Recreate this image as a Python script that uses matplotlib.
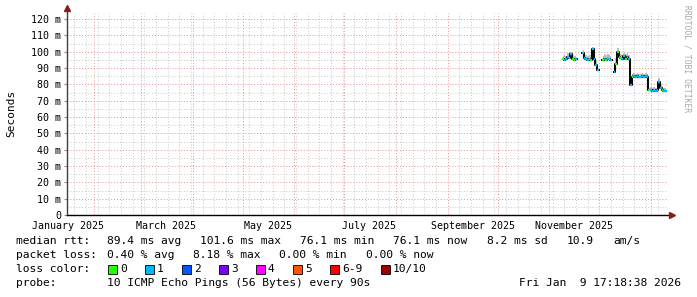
import numpy as np
import pandas as pd
import matplotlib
matplotlib.use('Agg')
import matplotlib.pyplot as plt
from matplotlib.patches import Rectangle
from matplotlib.transforms import blended_transform_factory

nan = np.nan

# daily medians (ms) from 2025-11-09 to 2026-01-10
median = [95.5, 95.0, 95.5, 97.0, 96.0, 98.5, 95.5, 95.0, 95.5, nan, nan, nan,
          99.0, 96.0, 95.5, 95.0, 95.5, 95.0, 101.6, 95.5, 92.0, 89.0,
          nan, nan, 95.0, 95.5, 95.0, 95.5, 95.5, 95.0, nan,
          87.5, 92.5, 100.0, 97.0, 96.0, 95.5, 97.5, 95.5, 96.5, 95.5,
          79.5, 84.5, 85.0, 84.5, 85.0, 84.5, 84.5, 85.0, 84.5, 85.0, 84.5,
          76.5, 76.5, 76.0, 76.5, 76.0, 76.5, 81.5, 77.5, 76.5, 76.0, 76.1]
smoke_top = [97.5, 98.0, 97.5, 99.5, 99.0, 100.0, 98.0, 97.5, 97.5, nan, nan, nan,
             101.0, 99.0, 98.0, 97.5, 98.0, 98.0, 102.7, 98.0, 95.0, 92.0,
             nan, nan, 97.5, 98.5, 98.0, 98.5, 98.0, 97.5, nan,
             90.0, 96.0, 102.0, 100.0, 98.5, 98.0, 99.5, 98.5, 99.0, 98.0,
             83.0, 86.5, 87.0, 86.5, 87.0, 86.5, 86.5, 87.0, 86.5, 87.0, 86.5,
             78.0, 78.5, 78.0, 78.5, 78.0, 78.5, 84.0, 80.0, 79.0, 78.0, 78.0]
loss = [0, 1, 1, 1, 0, 1, 0, 0, 1, 0, 0, 0,
        1, 1, 1, 1, 0, 0, 1, 1, 1, 1,
        0, 0, 0, 1, 0, 1, 0, 1, 0,
        1, 0, 0, 1, 0, 1, 1, 0, 1, 1,
        1, 0, 1, 1, 1, 1, 1, 1, 1, 1, 1,
        0, 1, 1, 1, 1, 1, 1, 1, 0, 1, 1]
dates = pd.date_range('2025-11-09', periods=len(median), freq='D')

loss_labels = ['0', '1', '2', '3', '4', '5', '6-9', '10/10']
loss_colors = ['#26ff00', '#00b8ff', '#0059ff', '#7e00ff', '#ff00ff', '#ff5500', '#ff0000', '#a10000']

month_labels = ['January 2025', 'March 2025', 'May 2025', 'July 2025',
                'September 2025', 'November 2025']
label_dates = pd.to_datetime(['2025-01-16', '2025-03-16', '2025-05-16',
                              '2025-07-16', '2025-09-16', '2025-11-16'])

rtt_items = ['89.4 ms avg', '101.6 ms max', '76.1 ms min', '76.1 ms now',
             '8.2 ms sd', '10.9', 'am/s']
loss_items = ['0.40 % avg', '8.18 % max', '0.00 % min', '0.00 % now']

W, H = 697, 297
fig = plt.figure(figsize=(W / 100, H / 100), dpi=100)
fig.patch.set_facecolor('white')
L, R, B, T = 67, 668, 215, 13
ax = fig.add_axes([L / W, 1 - B / H, (R - L) / W, (B - T) / H])
ax.set_facecolor('white')

ax.set_xlim(pd.Timestamp('2025-01-15 12:00'), pd.Timestamp('2026-01-11 05:00'))
ax.set_ylim(0, 123.7)

mono = 'DejaVu Sans Mono'

# grid
ax.set_yticks(np.arange(0, 121, 10))
ax.set_yticks(np.arange(5, 121, 10), minor=True)
ax.set_xticks(pd.date_range('2025-02-01', '2026-01-01', freq='MS'))
ax.set_xticks(pd.date_range('2025-01-20', '2026-01-11', freq='7D'), minor=True)
ax.grid(which='minor', color='#c8c8c8', linestyle=(0, (1, 2)), linewidth=0.7)
ax.grid(which='major', color='#e89090', linestyle=(0, (1, 2)), linewidth=0.7)
ax.set_axisbelow(True)
ax.set_xticklabels([])
ax.tick_params(axis='x', which='both', length=0)
ax.tick_params(axis='y', which='major', length=2, color='#909090', labelsize=7.2, pad=2)
ax.tick_params(axis='y', which='minor', length=0)
ax.set_yticklabels(['0'] + ['%d m' % v for v in range(10, 121, 10)], fontfamily=mono)
for s in ax.spines.values():
    s.set_visible(False)

# x labels at mid-month
tr = blended_transform_factory(ax.transData, ax.transAxes)
for d, lab in zip(label_dates, month_labels):
    ax.text(d, -0.052, lab, transform=tr, ha='center', va='center',
            fontsize=7.2, fontfamily=mono, color='black', clip_on=False)

# axes with arrows
ax.plot([0, 0], [0, 1.02], transform=ax.transAxes, color='#404040', lw=1, clip_on=False)
ax.plot([0, 1.005], [0, 0], transform=ax.transAxes, color='black', lw=1, clip_on=False)
ax.plot([0], [1.025], marker='^', ms=4, color='#8b1a1a', transform=ax.transAxes, clip_on=False)
ax.plot([1.006], [0], marker='>', ms=4, color='#8b1a1a', transform=ax.transAxes, clip_on=False)

# smoke
med = np.array(median, dtype=float)
top = np.array(smoke_top, dtype=float)
ax.fill_between(dates, med, top, step='mid', color='#bdbdbd', lw=0)

# median line: black steps, coloured by loss on top
ax.step(dates, med, where='mid', color='black', lw=1.4)
half = pd.Timedelta(hours=12)
for d, m, l in zip(dates, med, loss):
    if not np.isnan(m):
        ax.plot([d - half, d + half], [m, m], color=loss_colors[l], lw=1.7,
                solid_capstyle='butt')

# y label and watermark
fig.text(11 / W, 1 - 113 / H, 'Seconds', rotation=90, ha='center', va='center',
         fontsize=8, fontfamily=mono)
fig.text(687 / W, 1 - 5 / H, 'RRDTOOL / TOBI OETIKER', rotation=270, ha='center', va='top',
         fontsize=5.8, fontfamily=mono, color='#a8a8a8')

# legend
fs = 8.1
def line(y, s, x=16, ha='left'):
    fig.text(x / W, 1 - y / H, s, ha=ha, va='center', fontsize=fs, fontfamily=mono)

line(241, 'median rtt:')
for x, s in zip([107, 200, 300, 393, 487, 567, 613], rtt_items):
    line(241, s, x=x)
line(255, 'packet loss:')
for x, s in zip([107, 193, 279, 366], loss_items):
    line(255, s, x=x)
line(269, 'loss color:')
box_x = [108, 145, 182, 219, 256, 293, 330, 381]
for bx, lab, c in zip(box_x, loss_labels, loss_colors):
    fig.patches.append(Rectangle((bx / W, 1 - 273.5 / H), 9 / W, 9 / H, transform=fig.transFigure,
                                 facecolor=c, edgecolor='black', lw=0.6))
    line(269, lab, x=bx + 12)
line(283, 'probe:')
line(283, '10 ICMP Echo Pings (56 Bytes) every 90s', x=107)
line(283, 'Fri Jan  9 17:18:38 2026', x=681, ha='right')

fig.savefig('out.png', dpi=100, facecolor='white')
